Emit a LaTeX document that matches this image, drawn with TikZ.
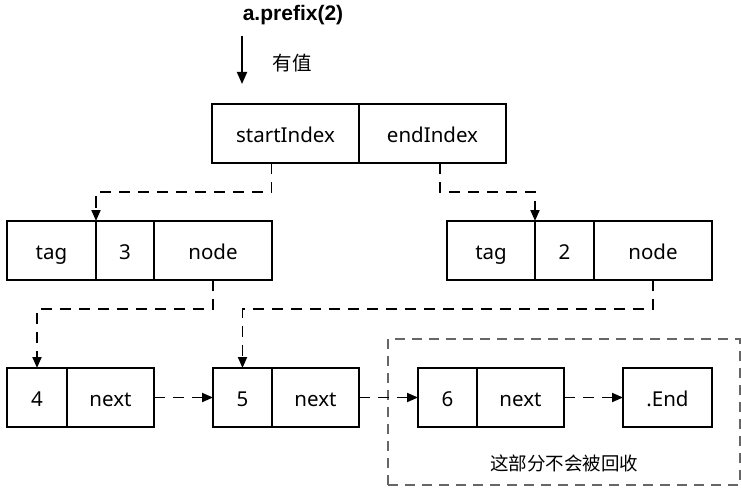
\documentclass[tikz,border=0pt]{standalone}
\usepackage{fontspec}
\setmainfont{Noto Sans}
\newfontfamily\callfont{Liberation Sans}
\newfontfamily\cjk{Noto Sans CJK SC}
\usetikzlibrary{arrows.meta}

\begin{document}
\begin{tikzpicture}[
    x=1pt, y=-1pt,
    cell/.style={rectangle, draw, line width=1.9pt, inner sep=0pt, outer sep=0pt, minimum height=59pt, text height=18pt, text depth=0pt, font=\fontsize{20.5}{24}\selectfont},
    link/.style={-{Triangle[length=11pt,width=9pt]}, line width=1.9pt, dash pattern=on 11pt off 8pt},
    arrow/.style={-{Triangle[length=12pt,width=10pt]}, line width=1.9pt}
]
    \useasboundingbox (0,0) rectangle (741,489);

    % Call
    \node[font=\callfont\bfseries\fontsize{21}{24}\selectfont] (call) at (293,15) {a.prefix(2)};
    \node[font=\cjk\fontsize{19.5}{24}\selectfont] (hasval) at (292,63) {有值};
    \coordinate (callTop) at (242,36);
    \coordinate (callEnd) at (242,84);

    % Index pair
    \node[cell, minimum width=147pt] (startIdx) at (285.5,133.5) {startIndex};
    \node[cell, minimum width=147pt] (endIdx) at (432.5,133.5) {endIndex};

    % Tagged nodes
    \node[cell, minimum width=89pt] (tagL) at (51.5,250.5) {tag};
    \node[cell, minimum width=58pt] (numL) at (125,250.5) {3};
    \node[cell, minimum width=118pt] (nodeL) at (213,250.5) {node};
    \node[cell, minimum width=88pt] (tagR) at (491,250.5) {tag};
    \node[cell, minimum width=59pt] (numR) at (564.5,250.5) {2};
    \node[cell, minimum width=118pt] (nodeR) at (653,250.5) {node};

    % Kept part
    \node[rectangle, draw=black!60, line width=1.5pt, dash pattern=on 10pt off 7pt, minimum width=352pt, minimum height=146pt] (kept) at (564,412) {};
    \node[font=\cjk\fontsize{18.5}{22}\selectfont] (keptText) at (564,463) {这部分不会被回收};

    % List
    \node[cell, minimum width=60pt] (v4) at (37,397.5) {4};
    \node[cell, minimum width=87pt] (next4) at (110.5,397.5) {next};
    \node[cell, minimum width=59pt] (v5) at (242.5,397.5) {5};
    \node[cell, minimum width=87pt] (next5) at (315.5,397.5) {next};
    \node[cell, minimum width=59pt] (v6) at (447.5,397.5) {6};
    \node[cell, minimum width=87pt] (next6) at (520.5,397.5) {next};
    \node[cell, minimum width=89pt] (endN) at (667.5,397.5) {.End};

    % Arrows
    \draw[arrow] (callTop) -- (callEnd);
    \draw[link] ([xshift=-14]startIdx.south) -- ++(0,29) -| (numL.north west);
    \draw[link] ([xshift=7.5]endIdx.south) -- ++(0,29) -| (numR.north west);
    \draw[link] (nodeL.south) -- ++(0,29) -| (v4.north);
    \draw[link] (nodeR.south) -- ++(0,29) -| (v5.north);
    \draw[link] (next4.east) -- (v5.west);
    \draw[link] (next5.east) -- (v6.west);
    \draw[link] (next6.east) -- (endN.west);
\end{tikzpicture}
\end{document}
